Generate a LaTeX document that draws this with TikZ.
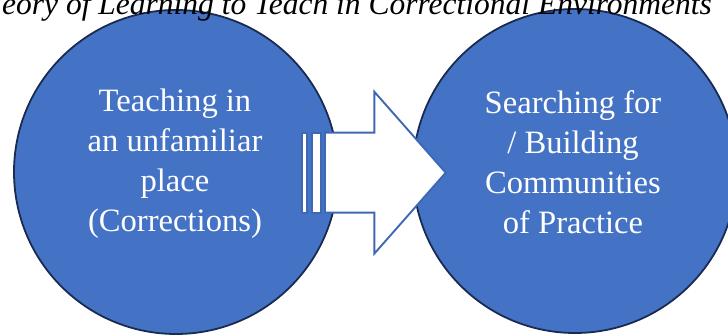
\documentclass[tikz,border=0pt]{standalone}
\usepackage{fontspec}
\setmainfont{Liberation Serif}
\definecolor{cfill}{HTML}{4472C4}
\definecolor{cedge}{HTML}{1A2B52}
\definecolor{aedge}{HTML}{3F68B4}
\begin{document}
\begin{tikzpicture}[x=1pt,y=-1pt,
  bubble/.style={circle, draw=cedge, line width=1.8pt, fill=cfill, minimum size=324pt, inner sep=0pt},
  bubbletext/.style={text=white, align=center, font=\fontsize{32.6}{40}\selectfont, inner sep=0pt},
  arrowpart/.style={draw=aedge, fill=white, line width=1.9pt, line join=miter},
  titletext/.style={font=\fontsize{31.5}{36}\selectfont\itshape, inner sep=0pt, text=black}]
\useasboundingbox (0,0) rectangle (728,336);
\clip (0,0) rectangle (728,336);
\node[bubble] (L) at (176,172) {};
\node[bubble] (R) at (575,171) {};
\node[bubbletext] (Lt) at (175,164) {Teaching in\\an unfamiliar\\place\\(Corrections)};
\node[bubbletext] (Rt) at (573,162.5) {Searching for\\/ Building\\Communities\\of Practice};
\draw[arrowpart] (302.3,132.7) rectangle (306.7,212.7);
\draw[arrowpart] (311.7,132.7) rectangle (320.7,212.7);
\draw[arrowpart] (325,132.7) -- (374.3,132.7) -- (374.3,91.7) -- (445.7,172.7) -- (374.3,253.7) -- (374.3,212.7) -- (325,212.7) -- cycle;
\node[titletext, anchor=base east] (T) at (712,15) {eory of Learning to Teach in Correctional Environments};
\end{tikzpicture}
\end{document}
